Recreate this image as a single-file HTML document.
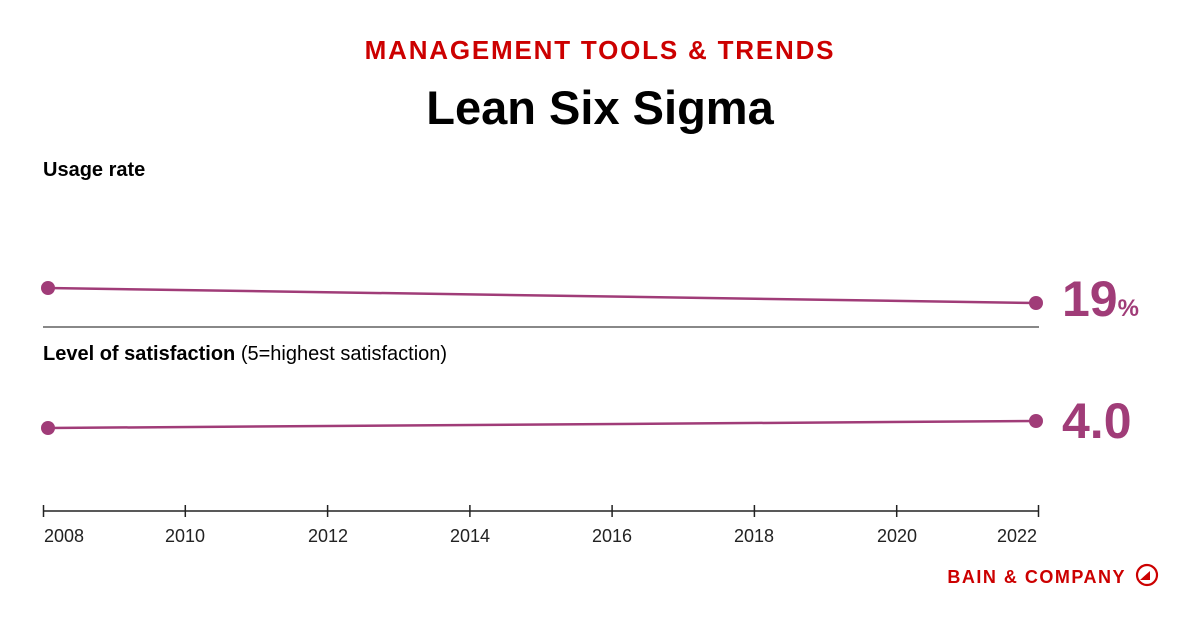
<!DOCTYPE html>
<html><head><style>
body{margin:0;width:1200px;height:627px;background:#fff;overflow:hidden}
svg{display:block}
</style></head><body>
<svg width="1200" height="627" xmlns="http://www.w3.org/2000/svg" font-family="Liberation Sans, sans-serif">
<text x="600" y="59" text-anchor="middle" font-size="26" font-weight="bold" fill="#cc0000" letter-spacing="1.8">MANAGEMENT TOOLS &amp; TRENDS</text>
<text x="600" y="124" text-anchor="middle" font-size="47" font-weight="bold" fill="#000">Lean Six Sigma</text>
<text x="43" y="176" font-size="20" font-weight="bold" fill="#000">Usage rate</text>
<line x1="48" y1="288" x2="1036" y2="303" stroke="#a03c78" stroke-width="2.5"/>
<circle cx="48" cy="288" r="7" fill="#a03c78"/>
<circle cx="1036" cy="303" r="7" fill="#a03c78"/>
<text x="1062" y="316" font-size="50" font-weight="bold" fill="#a03c78">19<tspan font-size="24">%</tspan></text>
<line x1="43" y1="327" x2="1039" y2="327" stroke="#888" stroke-width="2"/>
<text x="43" y="360" font-size="20" fill="#000"><tspan font-weight="bold">Level of satisfaction</tspan> (5=highest satisfaction)</text>
<line x1="48" y1="428" x2="1036" y2="421" stroke="#a03c78" stroke-width="2.5"/>
<circle cx="48" cy="428" r="7" fill="#a03c78"/>
<circle cx="1036" cy="421" r="7" fill="#a03c78"/>
<text x="1062" y="438" font-size="50" font-weight="bold" fill="#a03c78">4.0</text>
<line x1="43" y1="511" x2="1039" y2="511" stroke="#222" stroke-width="1.5"/>
<g stroke="#222" stroke-width="1.5">
<line x1="43.5" y1="505" x2="43.5" y2="517"/><line x1="185.3" y1="505" x2="185.3" y2="517"/><line x1="327.6" y1="505" x2="327.6" y2="517"/><line x1="469.9" y1="505" x2="469.9" y2="517"/><line x1="612.1" y1="505" x2="612.1" y2="517"/><line x1="754.4" y1="505" x2="754.4" y2="517"/><line x1="896.7" y1="505" x2="896.7" y2="517"/><line x1="1038.5" y1="505" x2="1038.5" y2="517"/>
</g>
<g font-size="18" fill="#222" text-anchor="middle">
<text x="64" y="542">2008</text><text x="185" y="542">2010</text><text x="328" y="542">2012</text><text x="470" y="542">2014</text><text x="612" y="542">2016</text><text x="754" y="542">2018</text><text x="897" y="542">2020</text><text x="1017" y="542">2022</text>
</g>
<text x="1126" y="583" text-anchor="end" font-size="18" font-weight="bold" fill="#cc0000" letter-spacing="1.5">BAIN &amp; COMPANY</text>
<circle cx="1147" cy="575" r="10" fill="none" stroke="#cc0000" stroke-width="2.2"/>
<polygon points="1140,580 1150,571 1150,580" fill="#cc0000"/>
</svg>
</body></html>
